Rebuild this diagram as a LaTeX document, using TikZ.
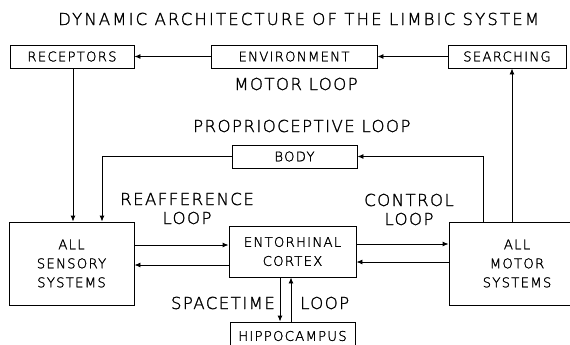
\documentclass[tikz,border=0pt]{standalone}
\usepackage{fontspec}
\IfFontExistsTF{DejaVu Sans ExtraLight}
  {\setmainfont{DejaVu Sans ExtraLight}[LetterSpace=9, FakeBold=1.5]}
  {\setmainfont{DejaVu Sans}[LetterSpace=9]}
\usetikzlibrary{arrows.meta}

\begin{document}
\begin{tikzpicture}[x=1pt, y=-1pt,
  box/.style={draw, line width=0.9pt, inner sep=0pt, align=center,
              font=\fontsize{13.3}{19}\selectfont},
  lbl/.style={inner sep=0pt, align=center, font=\fontsize{16.5}{19}\selectfont},
  arr/.style={-{Latex[length=6pt,width=5pt]}, line width=0.9pt}]
\useasboundingbox (0,0) rectangle (570,345);

% title and loop labels
\node[lbl, anchor=west] (title) at (58,19)
  {\addfontfeature{LetterSpace=13}DYNAMIC ARCHITECTURE OF THE LIMBIC SYSTEM};
\node[lbl] (motorloop) at (296,84) {MOTOR LOOP};
\node[lbl, anchor=west] (proprio) at (193,126) {PROPRIOCEPTIVE LOOP};
\node[lbl] (reaff) at (187,208.5) {REAFFERENCE\\LOOP};
\node[lbl] (control) at (409,209.5) {CONTROL\\LOOP};
\node[lbl, anchor=east] (spacetime) at (275,303) {SPACETIME};
\node[lbl, anchor=west] (stloop) at (300,303) {LOOP};

% boxes
\node[box, minimum width=124pt, minimum height=23pt] (rec) at (72,56.5) {RECEPTORS};
\node[box, minimum width=166pt, minimum height=23pt] (env) at (294,56.5) {ENVIRONMENT};
\node[box, minimum width=118pt, minimum height=23pt] (sea) at (507,56.5) {SEARCHING};
\node[box, minimum width=125pt, minimum height=23pt] (body) at (294.5,156.5) {BODY};
\node[box, minimum width=125pt, minimum height=83pt] (sens) at (71.5,263.5) {ALL\\SENSORY\\SYSTEMS};
\node[box, minimum width=127pt, minimum height=51pt] (ento) at (292.5,251.5) {ENTORHINAL\\CORTEX};
\node[box, minimum width=136pt, minimum height=83pt] (mot) at (517,263.5) {ALL\\MOTOR\\SYSTEMS};
\node[box, minimum width=125pt, minimum height=28pt] (hip) at (292.5,336) {HIPPOCAMPUS};

% motor loop
\draw[arr] (sea.west) -- (env.east);
\draw[arr] (env.west) -- (rec.east);
\draw[arr] ([xshift=1pt]rec.south) -- ([xshift=1pt]rec.south |- sens.north);
\draw[arr] ([xshift=-5pt]mot.north) -- ([xshift=-5pt]mot.north |- sea.south);

% proprioceptive loop
\draw[arr] ([xshift=-34pt]mot.north) |- (body.east);
\draw[arr] (body.west) -| ([xshift=30.5pt]sens.north);

% reafference loop
\draw[arr] ([yshift=18.5pt]sens.east) -- ([yshift=18.5pt]sens.east -| ento.west);
\draw[arr] ([yshift=-13.5pt]ento.west) -- ([yshift=-13.5pt]ento.west -| sens.east);

% control loop
\draw[arr] ([yshift=7.5pt]ento.east) -- ([yshift=7.5pt]ento.east -| mot.west);
\draw[arr] ([yshift=-10.5pt]mot.west |- ento.east) -- ([yshift=-10.5pt]ento.east);

% spacetime loop
\draw[arr] ([xshift=-12.5pt]ento.south) -- ([xshift=-12.5pt]ento.south |- hip.north);
\draw[arr] ([xshift=-1.5pt]hip.north) -- ([xshift=-1.5pt]hip.north |- ento.south);
\end{tikzpicture}
\end{document}
